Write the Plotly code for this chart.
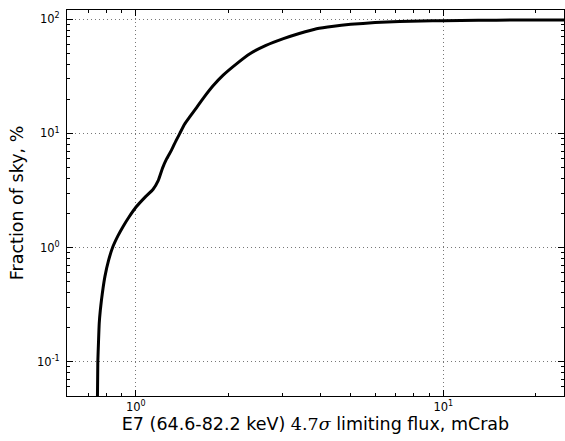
import numpy as np
import plotly.graph_objects as go

flux = [0.750, 0.752, 0.756, 0.760, 0.766, 0.773, 0.782, 0.793, 0.815, 0.840, 0.875, 0.909,
        0.95, 1.0, 1.07, 1.138, 1.182, 1.221, 1.26, 1.306, 1.35, 1.39, 1.44, 1.499, 1.58,
        1.656, 1.78, 1.923, 2.12, 2.35, 2.65, 3.02, 3.4, 3.87, 4.4, 5.0, 6.0, 7.2, 8.5, 10.0,
        13.0, 17.0, 25.0]
frac = [0.05, 0.10, 0.15, 0.217, 0.28, 0.348, 0.44, 0.556, 0.77, 1.0, 1.27, 1.53,
        1.85, 2.25, 2.75, 3.24, 3.85, 4.96, 6.0, 7.14, 8.6, 10.0, 12.0, 14.0, 17.0,
        20.3, 26.0, 32.4, 40.5, 49.9, 59.0, 67.6, 75.0, 82.7, 87.0, 90.2, 93.5, 95.5, 96.5, 97.2,
        97.9, 98.3, 98.6]

x_major = [1, 10]
x_labels = ['10<sup>0</sup>', '10<sup>1</sup>']
y_major = [0.1, 1, 10, 100]
y_labels = ['10<sup>-1</sup>', '10<sup>0</sup>', '10<sup>1</sup>', '10<sup>2</sup>']
minor_vals = [m * 10.0 ** e for e in range(-2, 3) for m in range(2, 10)]

x_title = ('E7 (64.6-82.2 keV) <span style="font-family:DejaVu Serif">4.7<i>σ</i></span> '
           'limiting flux, mCrab')
y_title = 'Fraction of sky, %'

x_range = [np.log10(0.597), np.log10(24.7)]
y_range = [np.log10(0.05), np.log10(120.5)]

fig = go.Figure()
# invisible copy on the overlay axes that carry the minor ticks
fig.add_trace(go.Scatter(x=flux, y=frac, mode='lines', xaxis='x2', yaxis='y2',
                         line=dict(color='rgba(0,0,0,0)', width=0), hoverinfo='skip',
                         showlegend=False))
fig.add_trace(go.Scatter(x=flux, y=frac, mode='lines',
                         line=dict(color='black', width=3, shape='spline', smoothing=0.5),
                         showlegend=False))

tick_font = dict(family='DejaVu Sans', size=11.5, color='black')
title_font = dict(family='DejaVu Sans', size=17.5, color='black')

major_common = dict(
    type='log', tickmode='array', showline=True, linecolor='black', automargin=False,
    linewidth=1, mirror='allticks', ticks='inside', ticklen=6, tickwidth=1,
    tickcolor='black', showgrid=True, gridcolor='#777777', griddash='1px,3px', gridwidth=1,
    zeroline=False, tickfont=tick_font, layer='above traces',
)
minor_common = dict(
    type='log', tickmode='array', tickvals=minor_vals, showticklabels=False,
    showline=False, mirror='allticks', ticks='inside', ticklen=3, tickwidth=1,
    tickcolor='black', showgrid=False, zeroline=False, automargin=False,
)

fig.update_layout(
    width=565, height=441, margin=dict(l=67, r=1, t=10, b=45),
    plot_bgcolor='white', paper_bgcolor='white',
    font=dict(family='DejaVu Sans', color='black'),
    xaxis=dict(**major_common, tickvals=x_major, ticktext=x_labels, range=x_range,
               title=dict(text=x_title, font=title_font, standoff=3)),
    yaxis=dict(**major_common, tickvals=y_major, ticktext=y_labels, range=y_range,
               ticklabelstandoff=4,
               title=dict(text=y_title, font=title_font, standoff=8)),
    xaxis2=dict(**minor_common, range=x_range, overlaying='x', anchor='y2', side='bottom'),
    yaxis2=dict(**minor_common, range=y_range, overlaying='y', anchor='x2', side='left'),
)

fig.write_html('out.html', config={'displayModeBar': False},
               post_script="document.body.style.margin='0';document.body.style.overflow='hidden';")
